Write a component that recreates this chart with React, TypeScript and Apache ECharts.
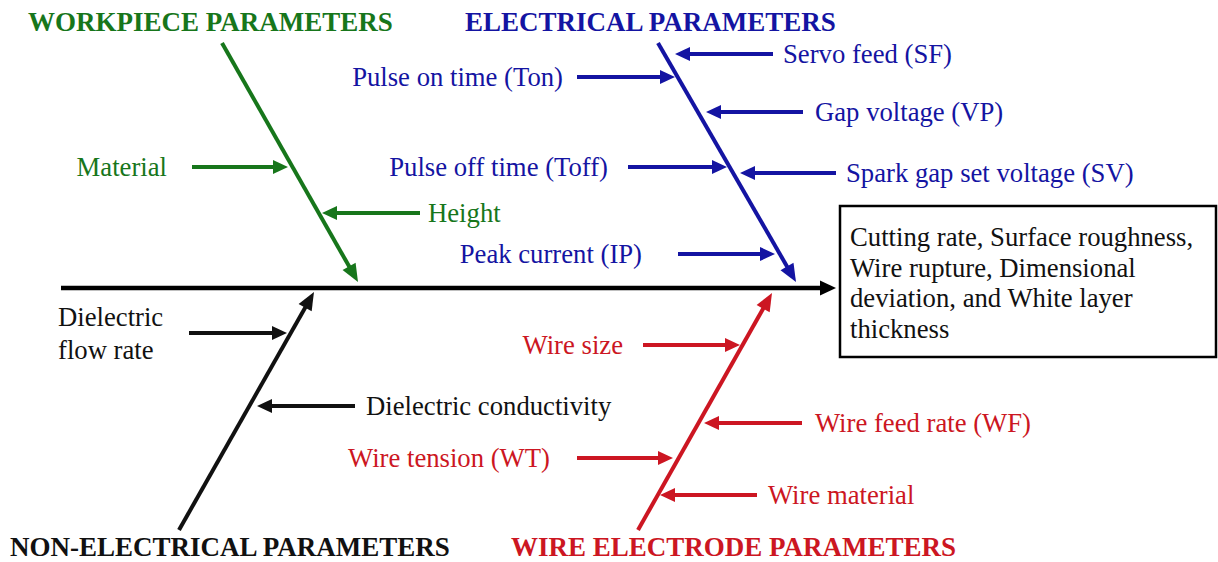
import React, { useEffect, useRef } from 'react';
import * as echarts from 'echarts';

// ---- Diagram data (in page pixel units) ----
const boneTitles = [
  'WORKPIECE PARAMETERS',
  'ELECTRICAL PARAMETERS',
  'NON-ELECTRICAL PARAMETERS',
  'WIRE ELECTRODE PARAMETERS',
];
const boneFromX = [222, 658, 179, 638];
const boneFromY = [43, 43, 530, 530];
const boneToX = [358, 796, 314, 772];
const boneToY = [282, 282, 292, 293];
const titleX = [28, 465, 10, 511];
const titleY = [22, 22, 547, 547];

const causeLabels = [
  'Material',
  'Height',
  'Pulse on time (Ton)',
  'Servo feed (SF)',
  'Gap voltage (VP)',
  'Pulse off time (Toff)',
  'Spark gap set voltage (SV)',
  'Peak current (IP)',
  'Dielectric\nflow rate',
  'Dielectric conductivity',
  'Wire size',
  'Wire feed rate (WF)',
  'Wire tension (WT)',
  'Wire material',
];
const causeBone = [0, 0, 1, 1, 1, 1, 1, 1, 2, 2, 3, 3, 3, 3];
const causeY = [167, 213, 77, 54, 112, 167, 173, 254, 333, 406, 345, 423, 458, 495];
const causeFromX = [192, 420, 577, 773, 803, 628, 836, 678, 189, 355, 643, 802, 577, 757];
const causeTipX = [288, 322, 675, 675, 706, 727, 740, 775, 287, 257, 740, 704, 673, 660];
const causeLabelX = [167, 428, 563, 783, 815, 608, 846, 642, 58, 366, 623, 815, 550, 768];
const causeAlign = ['right', 'left', 'right', 'left', 'left', 'right', 'left', 'right', 'left', 'left', 'right', 'left', 'right', 'left'];

const spineFrom = [61, 288];
const spineTo = [836, 288];

const effectLines = [
  'Cutting rate, Surface roughness,',
  'Wire rupture, Dimensional',
  'deviation, and White layer',
  'thickness',
];
const effectBox = [840, 206, 1216, 357];
const effectTextX = 850;
const effectTextY = 283;

// ---- styles ----
const boneColors = ['#17761b', '#1414a2', '#111111', '#cc1622'];
const FONT = "'Liberation Serif', 'Times New Roman', serif";

function arrow(p0: number[], p1: number[], color: string, lw: number, L: number, W: number) {
  const dx = p1[0] - p0[0];
  const dy = p1[1] - p0[1];
  const len = Math.hypot(dx, dy) || 1;
  const ux = dx / len;
  const uy = dy / len;
  const px = -uy;
  const py = ux;
  const bx = p1[0] - ux * L;
  const by = p1[1] - uy * L;
  return [
    {
      type: 'line',
      shape: { x1: p0[0], y1: p0[1], x2: p1[0] - ux * L * 0.6, y2: p1[1] - uy * L * 0.6 },
      style: { stroke: color, lineWidth: lw },
    },
    {
      type: 'polygon',
      shape: { points: [[p1[0], p1[1]], [bx + px * W, by + py * W], [bx - px * W, by - py * W]] },
      style: { fill: color },
    },
  ];
}

export default function App() {
  const ref = useRef<HTMLDivElement>(null);

  useEffect(() => {
    if (!ref.current) return;
    const chart = echarts.init(ref.current, null, { renderer: 'svg' });

    const option: any = {
      animation: false,
      backgroundColor: '#ffffff',
      grid: { left: 0, right: 0, top: 0, bottom: 0 },
      xAxis: { type: 'value', min: 0, max: 1218, show: false },
      yAxis: { type: 'value', min: 0, max: 562, inverse: true, show: false },
      series: [
        {
          type: 'custom',
          name: 'spine',
          silent: true,
          clip: false,
          data: [[spineFrom[0], spineFrom[1], spineTo[0], spineTo[1]]],
          renderItem: (params: any, api: any) => {
            const a = api.coord([api.value(0), api.value(1)]);
            const b = api.coord([api.value(2), api.value(3)]);
            return { type: 'group', children: arrow(a, b, '#000000', 4.5, 16, 7.5) };
          },
        },
        {
          type: 'custom',
          name: 'bones',
          silent: true,
          clip: false,
          data: boneFromX.map((x, i) => [x, boneFromY[i], boneToX[i], boneToY[i]]),
          renderItem: (params: any, api: any) => {
            const i = params.dataIndex;
            const a = api.coord([api.value(0), api.value(1)]);
            const b = api.coord([api.value(2), api.value(3)]);
            const t = api.coord([titleX[i], titleY[i]]);
            return {
              type: 'group',
              children: [
                ...arrow(a, b, boneColors[i], 4, 18, 7.5),
                {
                  type: 'text',
                  x: t[0],
                  y: t[1],
                  style: {
                    text: boneTitles[i],
                    fill: boneColors[i],
                    fontFamily: FONT,
                    fontSize: 27,
                    fontWeight: 'bold',
                    align: 'left',
                    verticalAlign: 'middle',
                  },
                },
              ],
            };
          },
        },
        {
          type: 'custom',
          name: 'causes',
          silent: true,
          clip: false,
          data: causeY.map((y, i) => [causeFromX[i], y, causeTipX[i], y, causeLabelX[i]]),
          renderItem: (params: any, api: any) => {
            const i = params.dataIndex;
            const color = boneColors[causeBone[i]];
            const a = api.coord([api.value(0), api.value(1)]);
            const b = api.coord([api.value(2), api.value(3)]);
            const l = api.coord([api.value(4), api.value(1)]);
            return {
              type: 'group',
              children: [
                ...arrow(a, b, color, 4, 15, 7),
                {
                  type: 'text',
                  x: l[0],
                  y: l[1],
                  style: {
                    text: causeLabels[i],
                    fill: color,
                    fontFamily: FONT,
                    fontSize: 26.7,
                    lineHeight: 33,
                    align: causeAlign[i],
                    verticalAlign: 'middle',
                  },
                },
              ],
            };
          },
        },
        {
          type: 'custom',
          name: 'effect',
          silent: true,
          clip: false,
          data: [effectBox],
          renderItem: (params: any, api: any) => {
            const a = api.coord([api.value(0), api.value(1)]);
            const b = api.coord([api.value(2), api.value(3)]);
            const t = api.coord([effectTextX, effectTextY]);
            return {
              type: 'group',
              children: [
                {
                  type: 'rect',
                  shape: { x: a[0], y: a[1], width: b[0] - a[0], height: b[1] - a[1] },
                  style: { fill: '#ffffff', stroke: '#000000', lineWidth: 2.5 },
                },
                {
                  type: 'text',
                  x: t[0],
                  y: t[1],
                  style: {
                    text: effectLines.join('\n'),
                    fill: '#111111',
                    fontFamily: FONT,
                    fontSize: 26.7,
                    lineHeight: 30.5,
                    align: 'left',
                    verticalAlign: 'middle',
                  },
                },
              ],
            };
          },
        },
      ],
    };

    chart.setOption(option);
    return () => chart.dispose();
  }, []);

  return (
    <div
      ref={ref}
      style={{ position: 'fixed', left: 0, top: 0, width: 1218, height: 562, background: '#ffffff' }}
    />
  );
}
